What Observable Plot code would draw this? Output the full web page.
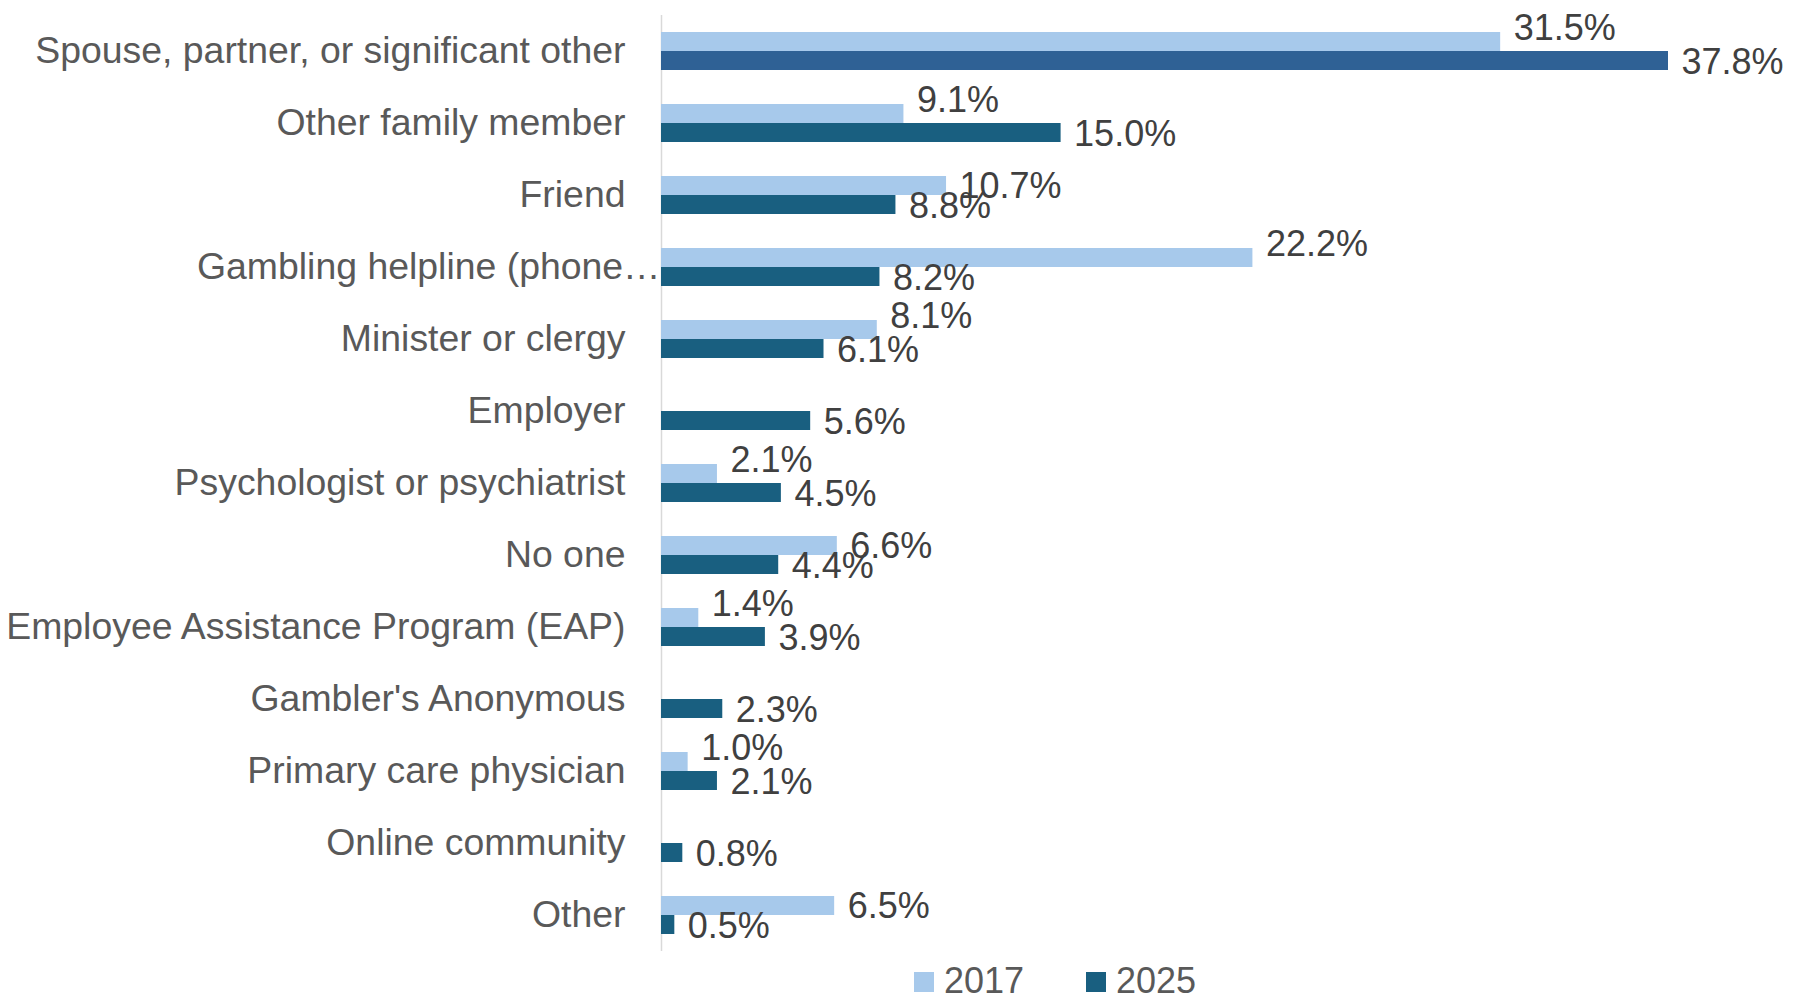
<!DOCTYPE html>
<html>
<head>
<meta charset="utf-8">
<script src="https://cdn.jsdelivr.net/npm/d3@7"></script>
<script src="https://cdn.jsdelivr.net/npm/@observablehq/plot@0.6"></script>
<style>
  html, body { margin: 0; padding: 0; background: #ffffff; }
  body { width: 1800px; height: 1003px; overflow: hidden; font-family: "Liberation Sans", Arial, sans-serif; }
  #legend { position: relative; width: 1800px; height: 48px; }
  #legend .sw { position: absolute; top: 17px; width: 20px; height: 20px; }
  #legend .lb { position: absolute; top: 8px; font-size: 36px; line-height: 36px; color: #595959; }
</style>
</head>
<body>
<div id="chart"></div>
<div id="legend"></div>
<script>
const categories = [
  "Spouse, partner, or significant other",
  "Other family member",
  "Friend",
  "Gambling helpline (phone\u2026",
  "Minister or clergy",
  "Employer",
  "Psychologist or psychiatrist",
  "No one",
  "Employee Assistance Program (EAP)",
  "Gambler's Anonymous",
  "Primary care physician",
  "Online community",
  "Other"
];
const years = ["2017", "2025"];
const values2017 = [31.5, 9.1, 10.7, 22.2, 8.1, null, 2.1, 6.6, 1.4, null, 1.0, null, 6.5];
const values2025 = [37.8, 15.0, 8.8, 8.2, 6.1, 5.6, 4.5, 4.4, 3.9, 2.3, 2.1, 0.8, 0.5];

const color2017 = "#a7c9eb";
const color2025 = "#195f80";
const colorHighlight = "#2f6195";
const lowered2017 = new Set(["Friend", "No one", "Other"]);

const data2017 = categories.map((c, i) => ({category: c, value: values2017[i]})).filter(d => d.value != null);
const data2025 = categories.map((c, i) => ({category: c, value: values2025[i]})).filter(d => d.value != null);
const fmt = d => d.value.toFixed(1) + "%";
const font = "Liberation Sans, Arial, sans-serif";

const chart = Plot.plot({
  width: 1800,
  height: 955,
  marginLeft: 661,
  marginRight: 73.4,
  marginTop: 15,
  marginBottom: 4,
  x: {domain: [0, 40], axis: null},
  y: {domain: categories, paddingInner: 0.472, paddingOuter: 0.236, axis: null},
  style: {fontFamily: font, background: "#ffffff"},
  marks: [
    Plot.ruleX([0], {stroke: "#d9d9d9", strokeWidth: 1.5}),
    Plot.barX(data2017, {x: "value", y: "category", fill: color2017, insetBottom: 19}),
    Plot.barX(data2025, {x: "value", y: "category", insetTop: 19,
      fill: d => d.category === categories[0] ? colorHighlight : color2025}),
    Plot.text(data2017.filter(d => !lowered2017.has(d.category)), {
      x: "value", y: "category", text: fmt, textAnchor: "start", dx: 13, dy: -23,
      fontSize: 36, fill: "#404040"}),
    Plot.text(data2017.filter(d => lowered2017.has(d.category)), {
      x: "value", y: "category", text: fmt, textAnchor: "start", dx: 13, dy: -9,
      fontSize: 36, fill: "#404040"}),
    Plot.text(data2025, {
      x: "value", y: "category", text: fmt, textAnchor: "start", dx: 13, dy: 10.5,
      fontSize: 36, fill: "#404040"}),
    Plot.text(categories.filter(c => !c.endsWith("\u2026")), {
      x: () => 0, y: d => d, text: d => d, textAnchor: "end", dx: -36,
      fontSize: 37.4, fill: "#595959"}),
    Plot.text(categories.filter(c => c.endsWith("\u2026")), {
      x: () => 0, y: d => d, text: d => d, textAnchor: "end", dx: -1,
      fontSize: 37.4, fill: "#595959"})
  ]
});
document.getElementById("chart").appendChild(chart);

const legend = document.getElementById("legend");
const legendColors = [color2017, color2025];
const legendLeft = [914, 1086];
years.forEach((yr, i) => {
  const sw = document.createElement("div");
  sw.className = "sw";
  sw.style.left = legendLeft[i] + "px";
  sw.style.background = legendColors[i];
  legend.appendChild(sw);
  const lb = document.createElement("div");
  lb.className = "lb";
  lb.style.left = (legendLeft[i] + 30) + "px";
  lb.textContent = yr;
  legend.appendChild(lb);
});
</script>
</body>
</html>
